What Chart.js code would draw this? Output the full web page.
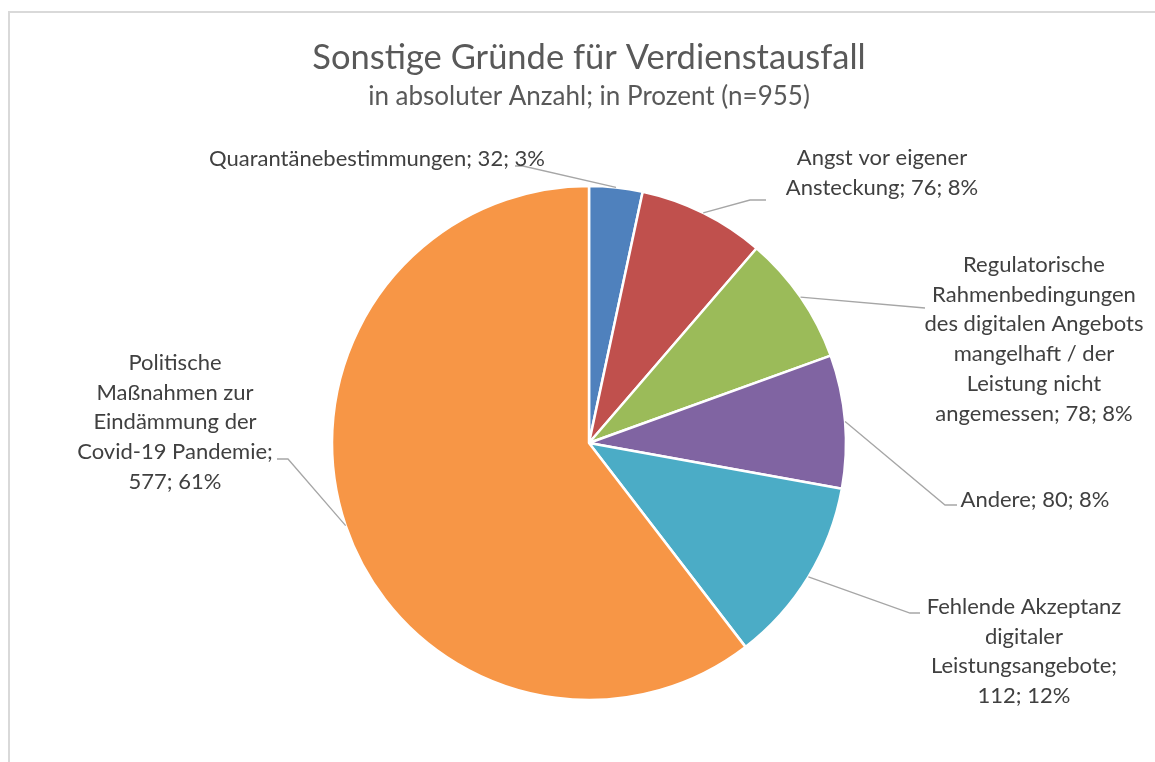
<!DOCTYPE html>
<html>
<head>
<meta charset="utf-8">
<script src="https://cdn.jsdelivr.net/npm/chart.js@4/dist/chart.umd.min.js"></script>
<style>
  html, body { margin: 0; padding: 0; background: #fff; }
  #wrap { width: 1155px; height: 762px; position: relative; }
</style>
</head>
<body>
<div id="wrap"><canvas id="chart" width="1155" height="762"></canvas></div>
<script>
// Daten
const categories = [
    'Quarantänebestimmungen',
    'Angst vor eigener Ansteckung',
    'Regulatorische Rahmenbedingungen des digitalen Angebots mangelhaft / der Leistung nicht angemessen',
    'Andere',
    'Fehlende Akzeptanz digitaler Leistungsangebote',
    'Politische Maßnahmen zur Eindämmung der Covid-19 Pandemie'
];
const counts = [32, 76, 78, 80, 112, 577];
const colors = ['#4f81bd', '#c0504d', '#9bbb59', '#8064a2', '#4bacc6', '#f79646'];

const titleText = 'Sonstige Gründe für Verdienstausfall';
const subtitleText = 'in absoluter Anzahl; in Prozent (n=955)';

// Beschriftung: Wörter pro Zeile, Textmitte, Knickpunkt der Führungslinie
const wordsPerLine = [[3], [3, 3], [1, 1, 3, 3, 2, 3], [3], [2, 1, 1, 2], [1, 2, 2, 2, 2]];
const labelPos = [
    { x: 377, y: 159, elbow: [523, 166], tail: [515, 166] },
    { x: 882, y: 158, elbow: [750, 200], tail: [766, 200] },
    { x: 1034, y: 265, elbow: [925, 308], tail: null },
    { x: 1035, y: 500, elbow: [945, 505], tail: [957, 505] },
    { x: 1024, y: 607, elbow: [910, 613], tail: [920, 613] },
    { x: 175, y: 363, elbow: [288, 459], tail: [277, 459] }
];

const FONT = 'Lato, "Open Sans", sans-serif';
const total = counts.reduce((a, b) => a + b, 0);

// Prozente runden, so dass die Summe 100 ergibt (wie Excel)
function roundedPercents() {
    const raw = counts.map(v => v / total * 100);
    const pct = raw.map(Math.floor);
    let rest = 100 - pct.reduce((a, b) => a + b, 0);
    const order = raw.map((r, i) => i).sort((a, b) => (raw[b] - pct[b]) - (raw[a] - pct[a]));
    for (let k = 0; k < rest; k++) pct[order[k]]++;
    return pct;
}
const percents = roundedPercents();

// Text in Zeilen aufteilen
function labelLines(i) {
    const words = `${categories[i]}; ${counts[i]}; ${percents[i]}%`.split(' ');
    const lines = [];
    let k = 0;
    wordsPerLine[i].forEach(n => {
        lines.push(words.slice(k, k + n).join(' '));
        k += n;
    });
    return lines;
}

// Rahmen + Hintergrund
const frame = {
    id: 'frame',
    beforeDraw(chart) {
        const ctx = chart.ctx;
        ctx.save();
        ctx.fillStyle = '#fff';
        ctx.fillRect(0, 0, chart.width, chart.height);
        ctx.strokeStyle = '#d9d9d9';
        ctx.lineWidth = 2;
        ctx.strokeRect(9, 12, chart.width + 20, chart.height + 20);
        ctx.restore();
    }
};

// Datenbeschriftungen mit Führungslinien
const pieLabels = {
    id: 'pieLabels',
    afterDatasetsDraw(chart) {
        const ctx = chart.ctx;
        const arcs = chart.getDatasetMeta(0).data;
        ctx.save();
        arcs.forEach((arc, i) => {
            const mid = (arc.startAngle + arc.endAngle) / 2;
            const px = arc.x + Math.cos(mid) * arc.outerRadius;
            const py = arc.y + Math.sin(mid) * arc.outerRadius;
            const p = labelPos[i];

            ctx.strokeStyle = '#a6a6a6';
            ctx.lineWidth = 1.3;
            ctx.beginPath();
            ctx.moveTo(px, py);
            ctx.lineTo(p.elbow[0], p.elbow[1]);
            if (p.tail) ctx.lineTo(p.tail[0], p.tail[1]);
            ctx.stroke();

            ctx.fillStyle = '#404040';
            ctx.font = '22px ' + FONT;
            ctx.textAlign = 'center';
            ctx.textBaseline = 'middle';
            labelLines(i).forEach((line, j) => {
                ctx.fillText(line, p.x, p.y + j * 29.7);
            });
        });
        ctx.restore();
    }
};

new Chart(document.getElementById('chart'), {
    type: 'pie',
    data: {
        labels: categories,
        datasets: [{
            data: counts,
            backgroundColor: colors,
            borderColor: '#ffffff',
            borderWidth: 2.5,
            radius: 257
        }]
    },
    options: {
        responsive: false,
        animation: false,
        layout: { padding: { left: 23, right: 0, top: 0, bottom: 0 } },
        plugins: {
            legend: { display: false },
            tooltip: { enabled: false },
            title: {
                display: true,
                text: titleText,
                color: '#595959',
                font: { family: FONT, size: 34.5, weight: 'normal' },
                padding: { top: 37, bottom: 0 }
            },
            subtitle: {
                display: true,
                text: subtitleText,
                color: '#595959',
                font: { family: FONT, size: 26, weight: 'normal' },
                padding: { top: 3, bottom: 11.4 }
            }
        }
    },
    plugins: [frame, pieLabels]
});
</script>
</body>
</html>
